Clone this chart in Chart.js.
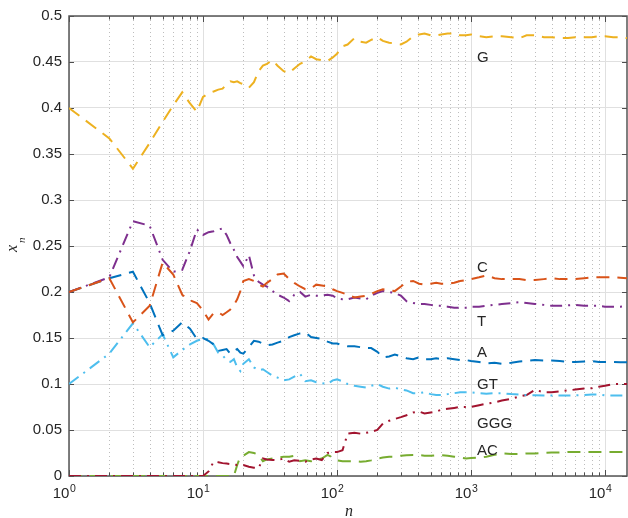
<!DOCTYPE html>
<html>
<head>
<meta charset="utf-8">
<script src="https://cdn.jsdelivr.net/npm/chart.js@4.4.1/dist/chart.umd.min.js"></script>
<style>
  body { margin: 0; background: #fff; }
  #c { display: block; }
</style>
</head>
<body>
<canvas id="c" width="628" height="518"></canvas>
<script>
// sample points along n (log axis)
var nValues = [1,2,3,4,5,6,7,8,9,10,
  11,12,13,14,15,16,17,18,19,20,
  22,24,26,28,30,33,36,40,44,48,
  53,58,64,70,77,85,93,100,110,120,
  135,150,165,180,200,220,245,270,300,330,
  370,410,450,500,550,600,670,750,830,920,
  1000,1150,1300,1500,1700,2000,2300,2600,3000,3500,
  4000,4600,5300,6000,7000,8000,9000,10000,11500,13000,
  14600];

var seriesG = [.400,.367,.334,.362,.385,.403,.417,.405,.396,.412,
  .416,.418,.420,.421,.426,.429,.428,.429,.427,.426,
  .422,.428,.440,.446,.448,.452,.446,.440,.438,.443,
  .448,.451,.456,.453,.452,.451,.455,.459,.467,.469,
  .476,.472,.471,.474,.477,.473,.471,.470,.469,.472,
  .478,.480,.481,.479,.479,.480,.481,.481,.479,.479,
  .480,.478,.477,.478,.478,.477,.476,.479,.479,.477,
  .477,.476,.476,.477,.477,.477,.478,.478,.477,.477,
  .476];

var seriesC = [.200,.215,.167,.185,.232,.219,.197,.191,.188,.180,
  .170,.177,.178,.175,.178,.181,.186,.192,.201,.212,
  .214,.212,.208,.206,.210,.214,.219,.220,.214,.210,
  .206,.203,.204,.208,.207,.206,.203,.201,.199,.197,
  .194,.195,.196,.198,.201,.203,.202,.201,.206,.211,
  .212,.209,.208,.209,.210,.209,.209,.210,.212,.213,
  .214,.216,.218,.215,.214,.214,.214,.213,.213,.214,
  .215,.214,.214,.214,.215,.216,.216,.216,.216,.2155,
  .215];

var seriesT = [.200,.216,.277,.272,.235,.222,.224,.245,.268,.262,
  .265,.266,.268,.269,.262,.253,.246,.238,.233,.228,
  .240,.218,.211,.208,.206,.201,.197,.194,.190,.197,
  .200,.195,.197,.196,.196,.197,.196,.193,.192,.192,
  .194,.193,.192,.196,.199,.201,.200,.199,.196,.190,
  .188,.187,.187,.186,.185,.185,.184,.183,.183,.183,
  .184,.184,.185,.186,.187,.188,.189,.188,.187,.186,
  .185,.185,.1855,.186,.185,.185,.185,.184,.184,.184,
  .185];

var seriesA = [.200,.215,.222,.188,.153,.158,.167,.160,.149,.150,
  .147,.143,.136,.137,.138,.133,.136,.138,.134,.133,
  .140,.147,.146,.144,.142,.143,.145,.147,.151,.153,
  .155,.156,.151,.150,.149,.146,.144,.144,.142,.141,
  .141,.140,.139,.139,.135,.129,.130,.132,.130,.128,
  .127,.129,.127,.127,.128,.127,.128,.127,.126,.126,
  .125,.124,.1225,.123,.122,.123,.1245,.125,.126,.1255,
  .1255,.125,.124,.124,.1245,.125,.124,.124,.124,.1236,
  .1236];

var seriesGT = [.100,.133,.166,.140,.154,.129,.137,.143,.147,.149,
  .149,.143,.134,.131,.126,.124,.127,.118,.114,.122,
  .127,.118,.115,.116,.113,.109,.107,.104,.105,.108,
  .111,.103,.104,.102,.101,.100,.104,.105,.103,.100,
  .098,.097,.096,.098,.100,.097,.095,.096,.094,.093,
  .090,.090,.091,.089,.088,.088,.089,.090,.091,.091,
  .091,.090,.0895,.090,.090,.089,.0885,.088,.0878,.0876,
  .0876,.0876,.0876,.0876,.088,.0886,.0886,.0876,.0876,.0876,
  .0876];

var seriesGGG = [0,0,0,0,0,0,0,0,0,0,
  .005,.0155,.015,.014,.0135,.013,.0125,.012,.012,.012,
  .010,.009,.0085,.019,.018,.0175,.0173,.019,.0155,.017,
  .0165,.0155,.018,.019,.0173,.025,.026,.026,.028,.046,
  .047,.046,.047,.048,.050,.057,.060,.062,.064,.066,
  .069,.070,.068,.069,.070,.072,.073,.074,.075,.075,
  .075,.077,.0786,.080,.082,.084,.0865,.088,.0937,.091,
  .091,.092,.093,.094,.095,.0955,.097,.098,.100,.100,
  .100];

var seriesAC = [0,0,0,0,0,0,0,0,0,0,
  0,0,0,0,0,0,0,.012,.021,.022,
  .026,.025,.023,.016,.018,.019,.020,.021,.021,.022,
  .016,.017,.016,.018,.019,.023,.020,.017,.016,.016,
  .016,.0155,.016,.017,.019,.020,.021,.021,.022,.0225,
  .0227,.0227,.022,.022,.0225,.0227,.022,.021,.020,.019,
  .0195,.020,.021,.023,.0245,.024,.024,.0245,.0245,.025,
  .0255,.0255,.026,.026,.026,.026,.026,.026,.026,.026,
  .026];

// series names (also used as in-plot labels) and where the labels sit
var names = ['G','C','T','A','GT','GGG','AC'];
var labelN = 1110;
var labelY = [.455,.226,.168,.1335,.0995,.0562,.027];

// tick layout
var xDecades = [1,10,100,1000,10000];
var xMinorSteps = [2,3,4,5,6,7,8,9];
var xMax = 14600;

var colors = ['#EDB120','#D95319','#7E2F8E','#0072BD','#4DBEEE','#A2142F','#77AC30'];
var DASH = [13,8];
var DASHDOT = [12,6,2,6];
var styles = [DASH, DASH, DASHDOT, DASH, DASHDOT, DASHDOT, DASH];
var allSeries = [seriesG, seriesC, seriesT, seriesA, seriesGT, seriesGGG, seriesAC];

function toPoints(vals){
  return nValues.map(function(n,i){ return {x:n, y:vals[i]}; });
}

var xTickValues = [];
xDecades.forEach(function(d){
  xTickValues.push(d);
  xMinorSteps.forEach(function(s){ if (d*s <= xMax) xTickValues.push(d*s); });
});

function isDecade(v){
  var l = Math.log10(v);
  return Math.abs(l - Math.round(l)) < 1e-9;
}

var FONT = '"Liberation Sans", Arial, Helvetica, sans-serif';
var TEXT = '#262626';

// grid, box, ticks, tick labels and titles drawn around the data
var frame = {
  id: 'frame',
  beforeDatasetsDraw: function(chart){
    var ctx = chart.ctx, a = chart.chartArea, x = chart.scales.x, y = chart.scales.y;
    ctx.save();
    // minor dotted grid
    ctx.lineWidth = 1;
    ctx.strokeStyle = '#bdbdbd';
    ctx.setLineDash([1,3]);
    x.ticks.forEach(function(t){
      if (t.major) return;
      var px = Math.round(x.getPixelForValue(t.value)) + 0.5;
      ctx.beginPath(); ctx.moveTo(px, a.top); ctx.lineTo(px, a.bottom); ctx.stroke();
    });
    ctx.setLineDash([]);
    ctx.strokeStyle = '#e0e0e0';
    x.ticks.forEach(function(t){
      if (!t.major) return;
      var px = Math.round(x.getPixelForValue(t.value)) + 0.5;
      ctx.beginPath(); ctx.moveTo(px, a.top); ctx.lineTo(px, a.bottom); ctx.stroke();
    });
    // tick marks
    ctx.strokeStyle = '#4d4d4d';
    x.ticks.forEach(function(t){
      var px = Math.round(x.getPixelForValue(t.value)) + 0.5;
      var len = t.major ? 6 : 3.5;
      ctx.beginPath();
      ctx.moveTo(px, a.bottom); ctx.lineTo(px, a.bottom - len);
      ctx.moveTo(px, a.top); ctx.lineTo(px, a.top + len);
      ctx.stroke();
    });
    y.ticks.forEach(function(t){
      var py = Math.round(y.getPixelForValue(t.value)) + 0.5;
      ctx.beginPath();
      ctx.moveTo(a.left, py); ctx.lineTo(a.left + 5, py);
      ctx.moveTo(a.right, py); ctx.lineTo(a.right - 5, py);
      ctx.stroke();
    });
    // box
    ctx.lineWidth = 1.5;
    ctx.strokeStyle = '#555555';
    ctx.strokeRect(a.left, a.top, a.right - a.left, a.bottom - a.top);

    // x tick labels 10^k
    ctx.fillStyle = TEXT;
    ctx.textBaseline = 'alphabetic';
    ctx.textAlign = 'left';
    x.ticks.forEach(function(t){
      if (!t.major) return;
      var px = x.getPixelForValue(t.value);
      var ex = String(Math.round(Math.log10(t.value)));
      ctx.font = '15px ' + FONT;
      var wb = ctx.measureText('10').width;
      ctx.font = '10.5px ' + FONT;
      var we = ctx.measureText(ex).width;
      var sx = px - (wb + we) / 2 - 5;
      ctx.font = '15px ' + FONT;
      ctx.fillText('10', sx, 498);
      ctx.font = '10.5px ' + FONT;
      ctx.fillText(ex, sx + wb + 0.5, 491.5);
    });

    // axis titles
    ctx.font = 'italic 16px "Liberation Serif", "Times New Roman", serif';
    ctx.fillText('n', 345, 516);
    ctx.save();
    ctx.translate(17, 252);
    ctx.rotate(-Math.PI / 2);
    ctx.fillText('x', 0, 0);
    ctx.font = 'italic 11px "Liberation Serif", "Times New Roman", serif';
    ctx.fillText('n', 9, 8);
    ctx.restore();
    ctx.restore();
  },
  afterDatasetsDraw: function(chart){
    var ctx = chart.ctx, x = chart.scales.x, y = chart.scales.y;
    ctx.save();
    ctx.font = '15px ' + FONT;
    ctx.fillStyle = TEXT;
    ctx.textAlign = 'left';
    ctx.textBaseline = 'middle';
    names.forEach(function(name, i){
      ctx.fillText(name, x.getPixelForValue(labelN), y.getPixelForValue(labelY[i]));
    });
    ctx.restore();
  }
};

new Chart(document.getElementById('c').getContext('2d'), {
  type: 'line',
  data: {
    datasets: names.map(function(name, i){
      return {
        label: name,
        data: toPoints(allSeries[i]),
        borderColor: colors[i],
        borderWidth: 2,
        borderDash: styles[i],
        pointRadius: 0,
        tension: 0,
        fill: false
      };
    })
  },
  options: {
    responsive: false,
    animation: false,
    layout: { padding: { top: 13.5, right: 1, left: 0, bottom: 0 } },
    plugins: { legend: { display: false }, tooltip: { enabled: false } },
    scales: {
      x: {
        type: 'logarithmic',
        min: 1,
        max: xMax,
        afterBuildTicks: function(s){
          s.ticks = xTickValues.map(function(v){ return {value: v, major: isDecade(v)}; });
        },
        afterFit: function(s){ s.height = 42; },
        ticks: { display: false },
        grid: { display: false },
        border: { display: false }
      },
      y: {
        min: 0,
        max: 0.5,
        afterFit: function(s){ s.width = 69; },
        ticks: {
          stepSize: 0.05,
          padding: 7,
          color: TEXT,
          font: { family: FONT, size: 15 },
          callback: function(v){ return String(+v.toFixed(2)); }
        },
        grid: { color: '#e0e0e0', lineWidth: 1, drawTicks: false },
        border: { display: false }
      }
    }
  },
  plugins: [frame]
});
</script>
</body>
</html>
